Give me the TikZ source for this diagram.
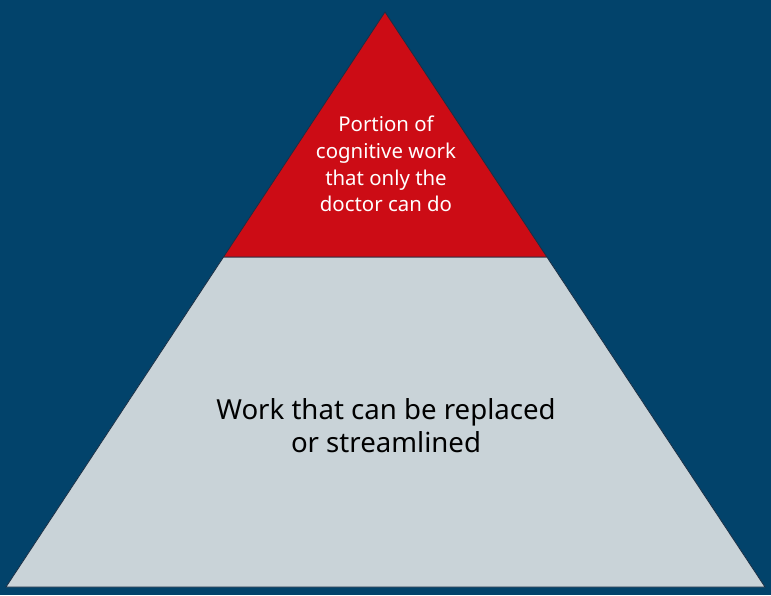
\documentclass[tikz,border=0pt]{standalone}
\usepackage{fontspec}
\setmainfont{Noto Sans}
\usetikzlibrary{calc}
\begin{document}
\begin{tikzpicture}[x=1pt,y=-1pt,
  bg/.style={fill=bgblue},
  tier/.style={draw=outline, line width=0.8pt, line join=miter},
  lbl/.style={align=center, inner sep=0pt}]
\definecolor{bgblue}{HTML}{02436B}
\definecolor{topred}{HTML}{CC0C15}
\definecolor{basegrey}{HTML}{C9D3D8}
\definecolor{outline}{HTML}{1B2F45}
\fill[bg] (0,0) rectangle (771,595);
\useasboundingbox (0,0) rectangle (771,595);
\coordinate (apex) at (385,12);
\coordinate (bl) at (6,587);
\coordinate (br) at (765,587);
\coordinate (ml) at ($(apex)!0.4261!(bl)$);
\coordinate (mr) at ($(apex)!0.4261!(br)$);
\draw[tier, fill=basegrey] (ml) -- (mr) -- (br) -- (bl) -- cycle;
\draw[tier, fill=topred] (apex) -- (mr) -- (ml) -- cycle;
\node[lbl, text=white, font=\fontsize{20.4}{26.8}\selectfont] (top) at (386,164)
  {Portion of\\cognitive work\\that only the\\doctor can do};
\node[lbl, text=black, font=\fontsize{27.6}{33}\selectfont] (base) at (386,426)
  {Work that can be replaced\\or streamlined};
\end{tikzpicture}
\end{document}
